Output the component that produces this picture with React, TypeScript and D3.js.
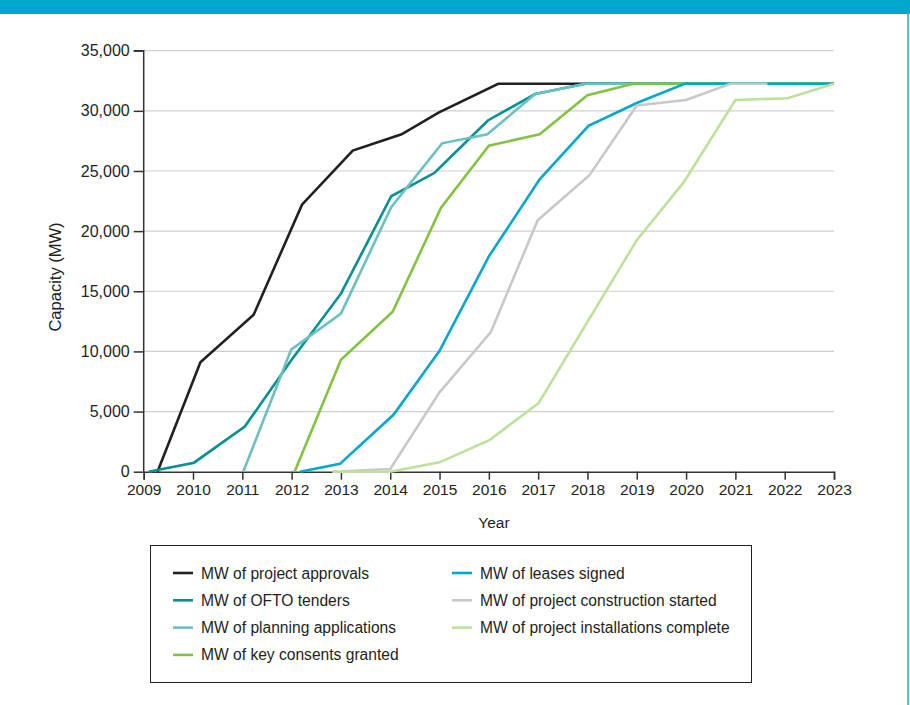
import React, { useEffect, useRef } from 'react';
import * as d3 from 'd3';

// Series values (decimal years, MW)
const approvalsYears = [2009.28, 2010.15, 2011.23, 2012.21, 2013.24, 2014.23, 2014.98, 2016.19, 2023];
const approvalsMW = [0, 9100, 13050, 22200, 26700, 28050, 29850, 32250, 32250];

const oftoYears = [2009.1, 2010.02, 2011.05, 2012.0, 2013.0, 2014.02, 2014.9, 2015.98, 2016.94, 2017.96, 2023];
const oftoMW = [0, 750, 3750, 9300, 14800, 22900, 24850, 29200, 31400, 32250, 32250];

const planningYears = [2011.02, 2011.99, 2013.0, 2014.02, 2015.05, 2015.97, 2016.94, 2017.96, 2023];
const planningMW = [0, 10150, 13150, 22000, 27300, 28050, 31400, 32250, 32250];

const consentsYears = [2012.06, 2013.0, 2014.05, 2015.03, 2016.0, 2017.03, 2018.0, 2018.93, 2023];
const consentsMW = [0, 9300, 13300, 21950, 27100, 28050, 31300, 32250, 32250];

const leasesYears = [2012.17, 2012.98, 2014.07, 2015.0, 2016.0, 2017.03, 2018.02, 2019.0, 2019.97, 2023];
const leasesMW = [0, 650, 4750, 10050, 17900, 24300, 28750, 30650, 32250, 32250];

const constructionYears = [2012.83, 2014.0, 2015.0, 2016.04, 2016.99, 2018.04, 2019.0, 2020.0, 2020.9, 2021.65];
const constructionMW = [0, 220, 6600, 11600, 20900, 24650, 30450, 30900, 32250, 32250];

const installationsYears = [2012.83, 2014.0, 2015.0, 2016.02, 2017.01, 2018.0, 2019.0, 2019.95, 2021.0, 2022.06, 2023];
const installationsMW = [0, 0, 780, 2650, 5700, 12450, 19250, 24050, 30900, 31050, 32250];

const seriesNames = [
  'MW of project approvals',
  'MW of OFTO tenders',
  'MW of planning applications',
  'MW of key consents granted',
  'MW of leases signed',
  'MW of project construction started',
  'MW of project installations complete',
];
const seriesColors = ['#231f20', '#00928f', '#6dc0bf', '#84c341', '#00a8cc', '#c8c8c8', '#bfe09c'];

const yearTicks = d3.range(2009, 2024);
const mwTicks = d3.range(0, 35001, 5000);

const App: React.FC = () => {
  const svgRef = useRef<SVGSVGElement | null>(null);

  useEffect(() => {
    if (!svgRef.current) return;
    const svg = d3.select(svgRef.current);
    svg.selectAll('*').remove();

    const font = '"Liberation Sans", Arial, sans-serif';
    const textColor = '#231f20';

    const series = [
      [approvalsYears, approvalsMW],
      [oftoYears, oftoMW],
      [planningYears, planningMW],
      [consentsYears, consentsMW],
      [leasesYears, leasesMW],
      [constructionYears, constructionMW],
      [installationsYears, installationsMW],
    ].map(([ys, vs], i) => ({
      name: seriesNames[i],
      color: seriesColors[i],
      points: ys.map((y, j) => [y, vs[j]] as [number, number]),
    }));

    // frame
    svg.append('rect').attr('x', 0).attr('y', 0).attr('width', 910).attr('height', 14).attr('fill', '#00a8cc');
    svg.append('rect').attr('x', 907).attr('y', 14).attr('width', 2).attr('height', 691).attr('fill', '#4cc0df');

    const x = d3.scaleLinear().domain([2009, 2023]).range([143.7, 834]);
    const y = d3.scaleLinear().domain([0, 35000]).range([471.7, 50.7]);

    // gridlines
    svg.append('g')
      .selectAll('line')
      .data(mwTicks.filter(d => d > 0))
      .enter()
      .append('line')
      .attr('x1', x(2009))
      .attr('x2', x(2023))
      .attr('y1', d => y(d))
      .attr('y2', d => y(d))
      .attr('stroke', '#cfcfcf')
      .attr('stroke-width', 1.2);

    // y axis
    const yAxis = svg.append('g')
      .attr('transform', `translate(${x(2009)},0)`)
      .call(d3.axisLeft(y).tickValues(mwTicks).tickFormat(d3.format(',')).tickSize(10).tickPadding(4));

    // x axis
    const xAxis = svg.append('g')
      .attr('transform', `translate(0,${y(0)})`)
      .call(d3.axisBottom(x).tickValues(yearTicks).tickFormat(d3.format('d')).tickSize(8).tickPadding(4));

    [yAxis, xAxis].forEach(ax => {
      ax.select('.domain').attr('stroke', '#333').attr('stroke-width', 1.5);
      ax.selectAll('.tick line').attr('stroke', '#333').attr('stroke-width', 1.5);
      ax.selectAll('.tick text')
        .attr('fill', textColor)
        .style('font-family', font);
    });
    yAxis.selectAll('.tick text').style('font-size', '16px');
    xAxis.selectAll('.tick text').style('font-size', '15.5px');
    yAxis.select('.domain').attr('d', `M-10,${y(35000)}H0V${y(0)}`);

    // axis titles
    svg.append('text')
      .attr('x', 494)
      .attr('y', 528)
      .attr('text-anchor', 'middle')
      .attr('fill', textColor)
      .style('font-family', font)
      .style('font-size', '15.5px')
      .text('Year');

    svg.append('text')
      .attr('transform', `translate(61,277) rotate(-90)`)
      .attr('text-anchor', 'middle')
      .attr('fill', textColor)
      .style('font-family', font)
      .style('font-size', '16.5px')
      .text('Capacity (MW)');

    // lines
    const line = d3.line<[number, number]>()
      .x(d => x(d[0]))
      .y(d => y(d[1]));

    svg.append('g')
      .selectAll('path')
      .data(series)
      .enter()
      .append('path')
      .attr('d', d => line(d.points))
      .attr('fill', 'none')
      .attr('stroke', d => d.color)
      .attr('stroke-width', 2.6)
      .attr('stroke-linejoin', 'miter');

    // legend
    const legend = svg.append('g');
    legend.append('rect')
      .attr('x', 150.5)
      .attr('y', 545.5)
      .attr('width', 601)
      .attr('height', 137)
      .attr('fill', 'none')
      .attr('stroke', '#231f20')
      .attr('stroke-width', 1);

    const items = legend.selectAll('g.item')
      .data(series)
      .enter()
      .append('g')
      .attr('class', 'item')
      .attr('transform', (d, i) => {
        const col = i < 4 ? 0 : 1;
        const row = i < 4 ? i : i - 4;
        return `translate(${col === 0 ? 173 : 452},${573 + row * 27.3})`;
      });

    items.append('line')
      .attr('x1', 0)
      .attr('x2', 20)
      .attr('y1', 0)
      .attr('y2', 0)
      .attr('stroke', d => d.color)
      .attr('stroke-width', 2.6);

    items.append('text')
      .attr('x', 28)
      .attr('y', 5.5)
      .attr('fill', textColor)
      .style('font-family', font)
      .style('font-size', '15.6px')
      .text(d => d.name);
  }, []);

  return (
    <svg
      ref={svgRef}
      width={910}
      height={705}
      style={{ position: 'absolute', left: 0, top: 0, background: '#fff' }}
    />
  );
};

export default App;
